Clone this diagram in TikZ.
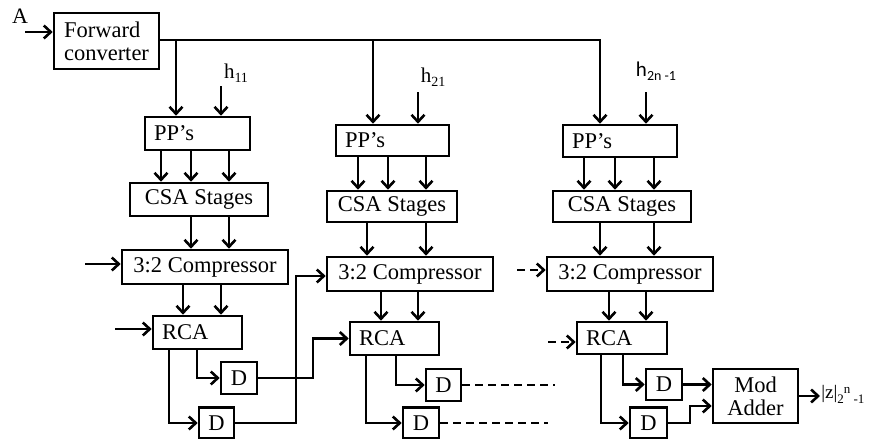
\documentclass[tikz,border=0pt]{standalone}
\usepackage{fontspec}
\setmainfont{Liberation Serif}
\newfontfamily\carl{Carlito}
\usetikzlibrary{arrows.meta}
\begin{document}
\begin{tikzpicture}[x=1pt,y=-1pt,line width=2.6pt,
  blk/.style={draw,inner sep=0pt,font=\fontsize{22.5}{23}\selectfont},
  lft/.style={align=left,inner xsep=9pt},
  arr/.style={-{Straight Barb[length=7pt,width=13pt]}},
  dsh/.style={dash pattern=on 8pt off 5pt},
  lab/.style={inner sep=0pt}]
\useasboundingbox (0,0) rectangle (878,439);
% blocks
\node[blk,minimum width=105pt,minimum height=56pt,align=left] (FC) at (106.5,41) {Forward\\converter};
\node[blk,lft,text width=87pt,minimum height=33pt] (PP1) at (197.5,133.5) {PP’s};
\node[blk,lft,text width=95pt,minimum height=31pt] (PP2) at (392.5,140.5) {PP’s};
\node[blk,lft,text width=96pt,minimum height=32pt] (PP3) at (620,141) {PP’s};
\node[blk,minimum width=138pt,minimum height=33pt] (CSA1) at (199,199.5) {CSA Stages};
\node[blk,minimum width=130pt,minimum height=31pt] (CSA2) at (392,206.5) {CSA Stages};
\node[blk,minimum width=138pt,minimum height=31pt] (CSA3) at (622,206.5) {CSA Stages};
\node[blk,minimum width=166pt,minimum height=34pt] (CMP1) at (205,267) {3:2 Compressor};
\node[blk,minimum width=166pt,minimum height=34pt] (CMP2) at (410,274) {3:2 Compressor};
\node[blk,minimum width=166pt,minimum height=34pt] (CMP3) at (630,274) {3:2 Compressor};
\node[blk,lft,text width=71pt,minimum height=33pt] (RCA1) at (197.5,332.5) {RCA};
\node[blk,lft,text width=71pt,minimum height=33pt] (RCA2) at (394.5,338.5) {RCA};
\node[blk,lft,text width=72pt,minimum height=32pt] (RCA3) at (622,338) {RCA};
\node[blk,minimum width=36pt,minimum height=32pt] (D1a) at (239,378) {D};
\node[blk,minimum width=35pt,minimum height=31pt] (D2a) at (216.5,423) {D};
\node[blk,minimum width=35pt,minimum height=32pt] (D1b) at (443.5,385) {D};
\node[blk,minimum width=36pt,minimum height=31pt] (D2b) at (421,423) {D};
\node[blk,minimum width=36pt,minimum height=31pt] (D1c) at (664,384.5) {D};
\node[blk,minimum width=37pt,minimum height=31pt] (D2c) at (648.5,423) {D};
\node[blk,minimum width=85pt,minimum height=54pt,align=center] (Mod) at (755.5,396) {Mod\\Adder};
% labels
\node[lab,font=\fontsize{22}{22}\selectfont] (A) at (20,16) {A};
\node[lab,font=\fontsize{21}{21}\selectfont] (h11) at (236,73) {h\raisebox{-4pt}{\fontsize{14}{14}\selectfont 11}};
\node[lab,font=\fontsize{21}{21}\selectfont] (h21) at (433,77) {h\raisebox{-4pt}{\fontsize{14}{14}\selectfont 21}};
\node[lab,font=\fontsize{21}{21}\carl] (h2n) at (656,71) {h\raisebox{-4pt}{\fontsize{14}{14}\carl 2n -1}};
\node[lab,anchor=west,font=\fontsize{19}{19}\selectfont] (Z) at (820,394) {|z|\raisebox{-5pt}{\fontsize{13}{13}\selectfont 2}\raisebox{5pt}{\fontsize{13}{13}\selectfont n}\raisebox{-5pt}{\fontsize{13}{13}\selectfont\ -1}};
% coordinates
\coordinate (ain) at (25,32);
\coordinate (bus) at (600,40);
\coordinate (b1) at (176,40);
\coordinate (b2) at (373,40);
\coordinate (hh1) at (221,86);
\coordinate (hh2) at (418,92);
\coordinate (hh3) at (646,92);
\coordinate (c1in) at (85,264);
\coordinate (r1in) at (115,329);
\coordinate (c3in) at (517,270);
\coordinate (r3in) at (548,342);
\coordinate (e1) at (555,385);
\coordinate (e2) at (548,423);
% input and bus
\draw[arr] (ain) -- (ain -| FC.west);
\draw[arr] (FC.east |- bus) -- (bus) -- (bus |- PP3.north);
\draw[arr] (b1) -- (b1 |- PP1.north);
\draw[arr] (b2) -- (b2 |- PP2.north);
\draw[arr] (hh1) -- (hh1 |- PP1.north);
\draw[arr] (hh2) -- (hh2 |- PP2.north);
\draw[arr] (hh3) -- (hh3 |- PP3.north);
% column internals
\foreach \x in {161,191,229} \draw[arr] (\x,0 |- PP1.south) -- (\x,0 |- CSA1.north);
\foreach \x in {358,388,426} \draw[arr] (\x,0 |- PP2.south) -- (\x,0 |- CSA2.north);
\foreach \x in {584,615,654} \draw[arr] (\x,0 |- PP3.south) -- (\x,0 |- CSA3.north);
\foreach \x in {191,229} \draw[arr] (\x,0 |- CSA1.south) -- (\x,0 |- CMP1.north);
\foreach \x in {367,426} \draw[arr] (\x,0 |- CSA2.south) -- (\x,0 |- CMP2.north);
\foreach \x in {600,654} \draw[arr] (\x,0 |- CSA3.south) -- (\x,0 |- CMP3.north);
\foreach \x in {183,221} \draw[arr] (\x,0 |- CMP1.south) -- (\x,0 |- RCA1.north);
\foreach \x in {381,418} \draw[arr] (\x,0 |- CMP2.south) -- (\x,0 |- RCA2.north);
\foreach \x in {609,646} \draw[arr] (\x,0 |- CMP3.south) -- (\x,0 |- RCA3.north);
% side inputs
\draw[arr] (c1in) -- (c1in -| CMP1.west);
\draw[arr] (r1in) -- (r1in -| RCA1.west);
\draw[arr,dsh] (c3in) -- (c3in -| CMP3.west);
\draw[arr,dsh] (r3in) -- (r3in -| RCA3.west);
% RCA outputs
\draw[arr] (169,0 |- RCA1.south) |- (D2a.west);
\draw[arr] (197,0 |- RCA1.south) |- (D1a.west);
\draw[arr] (366,0 |- RCA2.south) |- (D2b.west);
\draw[arr] (396,0 |- RCA2.south) |- (D1b.west);
\draw[arr] (601,0 |- RCA3.south) |- (D2c.west);
\draw[arr] (623,0 |- RCA3.south) |- (D1c.west);
% D outputs
\draw[arr] (D1a.east) -- (313,0 |- D1a.east) |- (RCA2.west);
\draw[arr] (D2a.east) -- (296,0 |- D2a.east) |- ([yshift=-2pt]CMP2.west);
\draw[dsh] (D1b.east) -- (e1);
\draw[dsh] (D2b.east) -- (e2);
\draw[arr] (D1c.east) -- (D1c.east -| Mod.west);
\draw[arr] (D2c.east) -- (690,0 |- D2c.east) |- ([yshift=-10pt]Mod.west);
\draw[arr] (Mod.east) -- (Mod.east -| Z.west);
\end{tikzpicture}
\end{document}
